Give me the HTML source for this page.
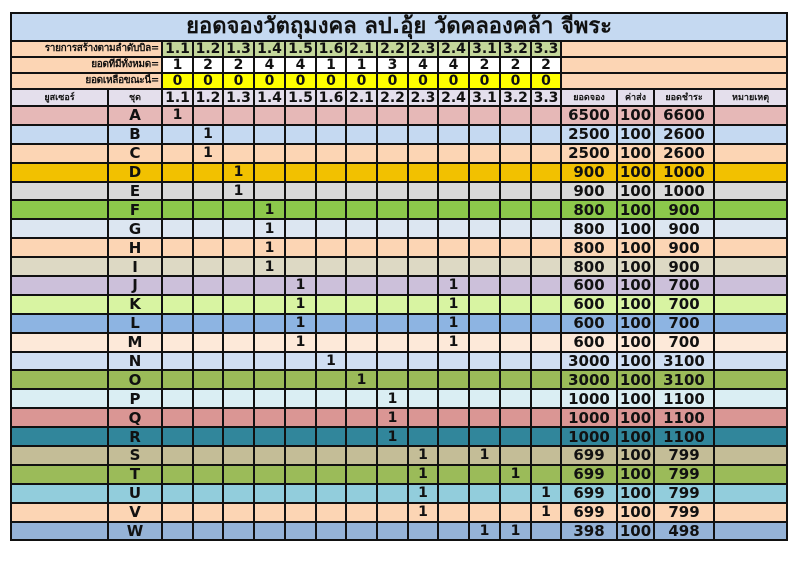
<!DOCTYPE html>
<html><head><meta charset="utf-8"><style>
body{margin:0;background:#fff;width:800px;height:566px;overflow:hidden;position:relative}
table{position:absolute;left:10px;top:12px;border-collapse:collapse;table-layout:fixed;width:777px;font-family:"DejaVu Sans","Liberation Sans",sans-serif;font-weight:bold;color:#111}
td{border:2px solid #111;padding:0;text-align:center;font-size:14px;overflow:hidden;white-space:nowrap;line-height:14px}
.t td{background:#c5d9f1;font-size:22px;font-weight:bold;height:26px;line-height:26px}
.h td{height:14px;font-size:14px}
.lab{background:#fcd5b4;text-align:right;font-size:10px !important;padding-right:2px;letter-spacing:-0.3px}
.emp{background:#fcd5b4}
.g{background:#c4d79b}.w{background:#fff}.y{background:#ffff00}
.hd td{background:#e4dfec;height:15px}
.hd td.s{font-size:9px}
.r td{height:16.9px}
</style></head><body>
<table>
<colgroup><col style="width:97px"><col style="width:54px"><col style="width:31px"><col style="width:30px"><col style="width:31px"><col style="width:31px"><col style="width:31px"><col style="width:30px"><col style="width:31px"><col style="width:31px"><col style="width:30px"><col style="width:31px"><col style="width:31px"><col style="width:31px"><col style="width:30px"><col style="width:56px"><col style="width:37px"><col style="width:60px"><col style="width:73px"></colgroup>
<tr class="t"><td colspan="19">ยอดจองวัตถุมงคล ลป.อุ้ย วัดคลองคล้า จีพระ</td></tr>
<tr class="h"><td colspan="2" class="lab">รายการสร้างตามลำดับบิล=</td><td class="g">1.1</td><td class="g">1.2</td><td class="g">1.3</td><td class="g">1.4</td><td class="g">1.5</td><td class="g">1.6</td><td class="g">2.1</td><td class="g">2.2</td><td class="g">2.3</td><td class="g">2.4</td><td class="g">3.1</td><td class="g">3.2</td><td class="g">3.3</td><td colspan="4" class="emp"></td></tr>
<tr class="h"><td colspan="2" class="lab">ยอดที่มีทั้งหมด=</td><td class="w">1</td><td class="w">2</td><td class="w">2</td><td class="w">4</td><td class="w">4</td><td class="w">1</td><td class="w">1</td><td class="w">3</td><td class="w">4</td><td class="w">4</td><td class="w">2</td><td class="w">2</td><td class="w">2</td><td colspan="4" class="emp"></td></tr>
<tr class="h"><td colspan="2" class="lab">ยอดเหลือขณะนี้=</td><td class="y">0</td><td class="y">0</td><td class="y">0</td><td class="y">0</td><td class="y">0</td><td class="y">0</td><td class="y">0</td><td class="y">0</td><td class="y">0</td><td class="y">0</td><td class="y">0</td><td class="y">0</td><td class="y">0</td><td colspan="4" class="emp"></td></tr>
<tr class="hd"><td class="s">ยูสเซอร์</td><td class="s">ชุด</td><td>1.1</td><td>1.2</td><td>1.3</td><td>1.4</td><td>1.5</td><td>1.6</td><td>2.1</td><td>2.2</td><td>2.3</td><td>2.4</td><td>3.1</td><td>3.2</td><td>3.3</td><td class="s">ยอดจอง</td><td class="s">ค่าส่ง</td><td class="s">ยอดชำระ</td><td class="s">หมายเหตุ</td></tr>
<tbody id="b"></tbody>
</table>
<script>
var rows=[["A","#e6b8b7",[0],6500,6600],["B","#c5d9f1",[1],2500,2600],["C","#fcd5b4",[1],2500,2600],["D","#f2c100",[2],900,1000],["E","#d9d9d9",[2],900,1000],["F","#8cc84b",[3],800,900],["G","#dce6f1",[3],800,900],["H","#fcd5b4",[3],800,900],["I","#ddd9c4",[3],800,900],["J","#ccc0da",[4,9],600,700],["K","#d8f4a2",[4,9],600,700],["L","#8db4e2",[4,9],600,700],["M","#fde9d9",[4,9],600,700],["N","#d0dff2",[5],3000,3100],["O","#9bbb59",[6],3000,3100],["P","#daeef3",[7],1000,1100],["Q","#da9694",[7],1000,1100],["R","#31869b",[7],1000,1100],["S","#c4bd97",[8,10],699,799],["T","#9bbb59",[8,11],699,799],["U","#92cddc",[8,12],699,799],["V","#fcd5b4",[8,12],699,799],["W","#95b3d7",[10,11],398,498]];
var h="";rows.forEach(function(r){h+='<tr class="r" style="background:'+r[1]+'"><td></td><td style="font-size:15px">'+r[0]+'</td>';for(var i=0;i<13;i++)h+='<td>'+(r[2].indexOf(i)>=0?'1':'')+'</td>';h+='<td style="font-size:15px">'+r[3]+'</td><td style="font-size:15px">100</td><td style="font-size:15px">'+r[4]+'</td><td></td></tr>';});
document.getElementById("b").innerHTML=h;
</script>
</body></html>
